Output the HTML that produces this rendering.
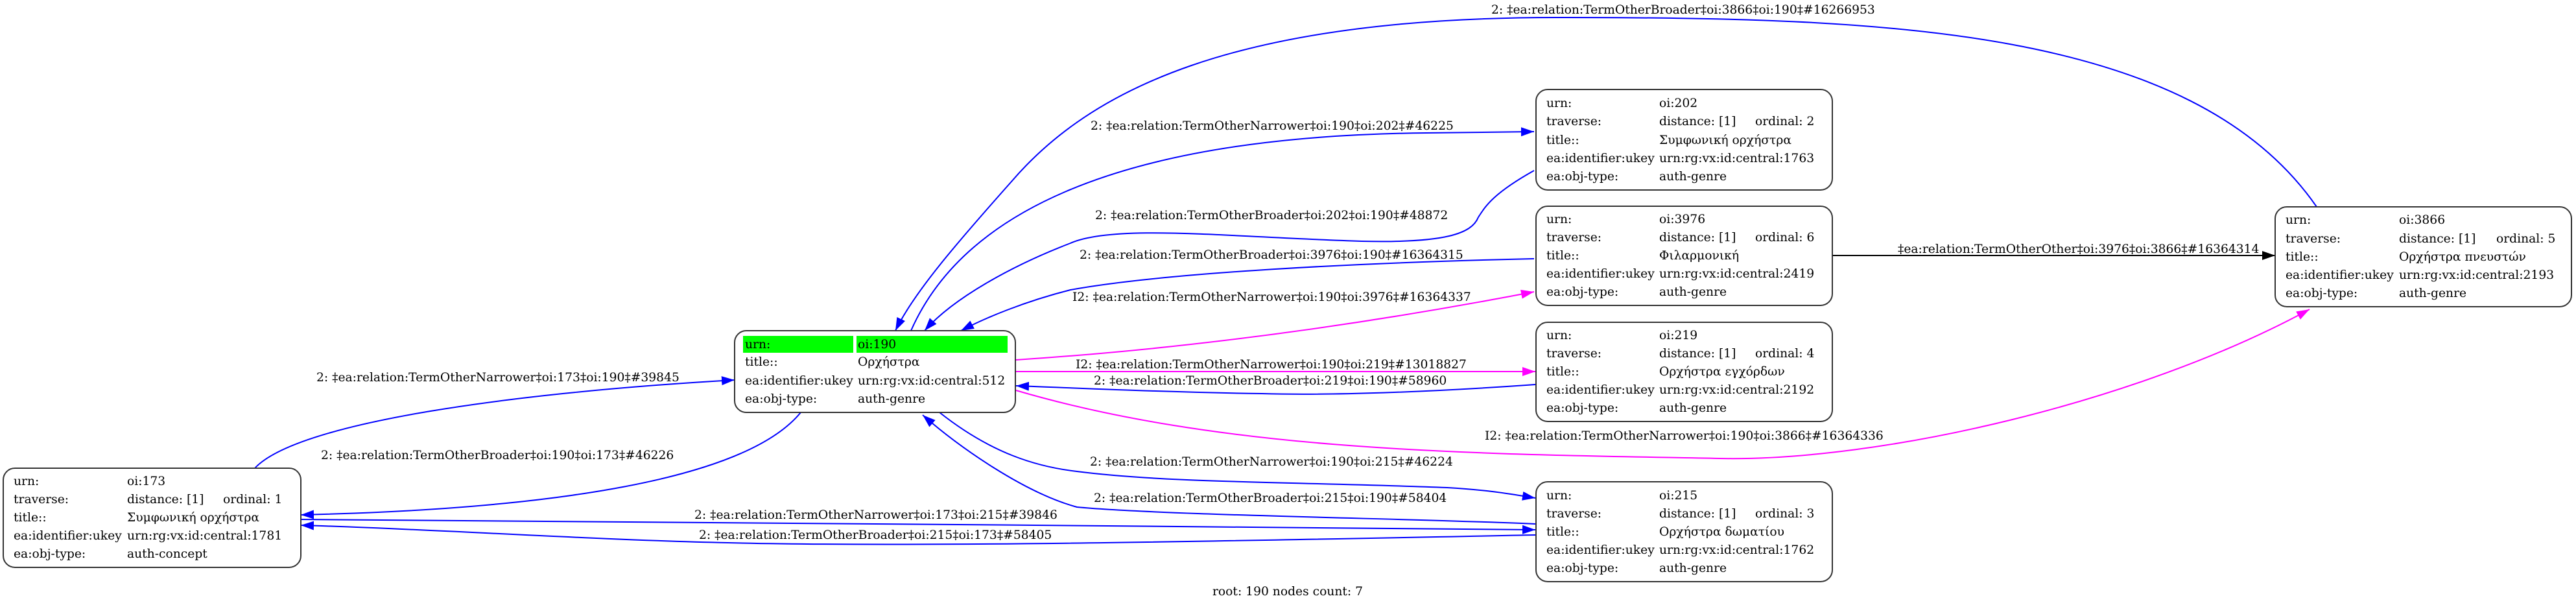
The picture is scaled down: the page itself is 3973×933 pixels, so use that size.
<!DOCTYPE html>
<html><head><meta charset="utf-8">
<style>
html,body{margin:0;padding:0;background:#fff;}
svg{display:block;}
text{font-family:"DejaVu Serif","Liberation Serif",serif;font-size:18.7px;fill:#000;}
</style></head>
<body>
<svg width="3973" height="933" viewBox="0 0 3973 933" xmlns="http://www.w3.org/2000/svg">
<defs>
<marker id="ab" markerUnits="userSpaceOnUse" markerWidth="22" markerHeight="16" refX="20" refY="7" orient="auto"><path d="M0,0 L20,7 L0,14 z" fill="#0000ff"/></marker>
<marker id="am" markerUnits="userSpaceOnUse" markerWidth="22" markerHeight="16" refX="20" refY="7" orient="auto"><path d="M0,0 L20,7 L0,14 z" fill="#ff00ff"/></marker>
<marker id="ak" markerUnits="userSpaceOnUse" markerWidth="22" markerHeight="16" refX="20" refY="7" orient="auto"><path d="M0,0 L20,7 L0,14 z" fill="#000"/></marker>
</defs>

<g fill="none" stroke-width="2">
<path stroke="#0000ff" marker-end="url(#ab)" d="M393,722 C460,650 800,605 1133,586"/>
<path stroke="#0000ff" marker-end="url(#ab)" d="M1235,636 C1150,740 850,785 464,794"/>
<path stroke="#0000ff" marker-end="url(#ab)" d="M464,801 C900,806 1800,810 2368,817"/>
<path stroke="#0000ff" marker-end="url(#ab)" d="M2368,825 C2000,832 1450,845 1122,837 C900,832 650,815 464,810"/>
<path stroke="#0000ff" marker-end="url(#ab)" d="M3573,319 C3380,40 2900,27 2400,27 C1900,27 1680,140 1560,280 C1480,370 1410,450 1381,510"/>
<path stroke="#0000ff" marker-end="url(#ab)" d="M1405,510 C1480,340 1700,210 2200,205 L2366,203"/>
<path stroke="#0000ff" marker-end="url(#ab)" d="M2366,263 C2300,300 2290,320 2280,335 C2270,360 2230,375 2100,372 C1900,366 1720,345 1651,375 C1560,410 1470,460 1426,510"/>
<path stroke="#0000ff" marker-end="url(#ab)" d="M2366,399 C2100,405 1800,420 1651,447 C1580,465 1520,490 1482,510"/>
<path stroke="#0000ff" marker-end="url(#ab)" d="M2368,593 C2200,605 2050,610 1946,607 C1800,605 1650,598 1567,595"/>
<path stroke="#0000ff" marker-end="url(#ab)" d="M1449,636 C1530,700 1600,720 1661,727 C1800,745 2000,743 2232,752 C2300,756 2330,762 2368,768"/>
<path stroke="#0000ff" marker-end="url(#ab)" d="M2368,808 C2200,800 1800,795 1661,782 C1580,760 1480,690 1423,640"/>
<path stroke="#ff00ff" marker-end="url(#am)" d="M1567,555 Q1950,530 2366,450"/>
<path stroke="#ff00ff" marker-end="url(#am)" d="M1567,573 L2368,573"/>
<path stroke="#ff00ff" marker-end="url(#am)" d="M1567,602 C1900,700 2300,700 2652,707 C2900,712 3300,620 3562,477"/>
<path stroke="#000" marker-end="url(#ak)" d="M2826,394 L3509,394"/>
</g>

<g>
<text x="488" y="588">2: ‡ea:relation:TermOtherNarrower‡oi:173‡oi:190‡#39845</text>
<text x="495" y="708">2: ‡ea:relation:TermOtherBroader‡oi:190‡oi:173‡#46226</text>
<text x="1071" y="800">2: ‡ea:relation:TermOtherNarrower‡oi:173‡oi:215‡#39846</text>
<text x="1078" y="831">2: ‡ea:relation:TermOtherBroader‡oi:215‡oi:173‡#58405</text>
<text x="2300" y="21">2: ‡ea:relation:TermOtherBroader‡oi:3866‡oi:190‡#16266953</text>
<text x="1682" y="200">2: ‡ea:relation:TermOtherNarrower‡oi:190‡oi:202‡#46225</text>
<text x="1689" y="338">2: ‡ea:relation:TermOtherBroader‡oi:202‡oi:190‡#48872</text>
<text x="1665" y="399">2: ‡ea:relation:TermOtherBroader‡oi:3976‡oi:190‡#16364315</text>
<text x="1654" y="464">I2: ‡ea:relation:TermOtherNarrower‡oi:190‡oi:3976‡#16364337</text>
<text x="1659" y="568">I2: ‡ea:relation:TermOtherNarrower‡oi:190‡oi:219‡#13018827</text>
<text x="1687" y="593">2: ‡ea:relation:TermOtherBroader‡oi:219‡oi:190‡#58960</text>
<text x="2290" y="678">I2: ‡ea:relation:TermOtherNarrower‡oi:190‡oi:3866‡#16364336</text>
<text x="1681" y="718">2: ‡ea:relation:TermOtherNarrower‡oi:190‡oi:215‡#46224</text>
<text x="1687" y="774">2: ‡ea:relation:TermOtherBroader‡oi:215‡oi:190‡#58404</text>
<text x="2927" y="390">‡ea:relation:TermOtherOther‡oi:3976‡oi:3866‡#16364314</text>
<text x="1870" y="918">root: 190 nodes count: 7</text>
</g>

<g>
<rect x="1133" y="510" width="433" height="126" rx="18" fill="#fff" stroke="#333" stroke-width="2"/>
<rect x="1146" y="518" width="170" height="26" fill="#00ff00"/>
<rect x="1321" y="518" width="233" height="26" fill="#00ff00"/>
<text x="1149" y="537">urn:</text><text x="1323" y="537">oi:190</text>
<text x="1149" y="564">title::</text><text x="1323" y="564">Ορχήστρα</text>
<text x="1149" y="593">ea:identifier:ukey</text><text x="1323" y="593">urn:rg:vx:id:central:512</text>
<text x="1149" y="621">ea:obj-type:</text><text x="1323" y="621">auth-genre</text>
</g>

<g>
<rect x="5" y="722" width="459" height="153" rx="18" fill="#fff" stroke="#333" stroke-width="2"/>
<text x="21" y="748">urn:</text><text x="196" y="748">oi:173</text>
<text x="21" y="776">traverse:</text><text x="196" y="776">distance: [1]</text><text x="344" y="776">ordinal: 1</text>
<text x="21" y="804">title::</text><text x="196" y="804">Συμφωνική ορχήστρα</text>
<text x="21" y="832">ea:identifier:ukey</text><text x="196" y="832">urn:rg:vx:id:central:1781</text>
<text x="21" y="860">ea:obj-type:</text><text x="196" y="860">auth-concept</text>
</g>

<g>
<rect x="2369" y="138" width="457" height="155" rx="18" fill="#fff" stroke="#333" stroke-width="2"/>
<text x="2385" y="165">urn:</text><text x="2559" y="165">oi:202</text>
<text x="2385" y="193">traverse:</text><text x="2559" y="193">distance: [1]</text><text x="2707" y="193">ordinal: 2</text>
<text x="2385" y="222">title::</text><text x="2559" y="222">Συμφωνική ορχήστρα</text>
<text x="2385" y="250">ea:identifier:ukey</text><text x="2559" y="250">urn:rg:vx:id:central:1763</text>
<text x="2385" y="278">ea:obj-type:</text><text x="2559" y="278">auth-genre</text>
</g>

<g>
<rect x="2369" y="318" width="457" height="153" rx="18" fill="#fff" stroke="#333" stroke-width="2"/>
<text x="2385" y="344">urn:</text><text x="2559" y="344">oi:3976</text>
<text x="2385" y="372">traverse:</text><text x="2559" y="372">distance: [1]</text><text x="2707" y="372">ordinal: 6</text>
<text x="2385" y="400">title::</text><text x="2559" y="400">Φιλαρμονική</text>
<text x="2385" y="428">ea:identifier:ukey</text><text x="2559" y="428">urn:rg:vx:id:central:2419</text>
<text x="2385" y="456">ea:obj-type:</text><text x="2559" y="456">auth-genre</text>
</g>

<g>
<rect x="2369" y="497" width="457" height="153" rx="18" fill="#fff" stroke="#333" stroke-width="2"/>
<text x="2385" y="523">urn:</text><text x="2559" y="523">oi:219</text>
<text x="2385" y="551">traverse:</text><text x="2559" y="551">distance: [1]</text><text x="2707" y="551">ordinal: 4</text>
<text x="2385" y="579">title::</text><text x="2559" y="579">Ορχήστρα εγχόρδων</text>
<text x="2385" y="607">ea:identifier:ukey</text><text x="2559" y="607">urn:rg:vx:id:central:2192</text>
<text x="2385" y="635">ea:obj-type:</text><text x="2559" y="635">auth-genre</text>
</g>

<g>
<rect x="2369" y="743" width="457" height="154" rx="18" fill="#fff" stroke="#333" stroke-width="2"/>
<text x="2385" y="770">urn:</text><text x="2559" y="770">oi:215</text>
<text x="2385" y="798">traverse:</text><text x="2559" y="798">distance: [1]</text><text x="2707" y="798">ordinal: 3</text>
<text x="2385" y="826">title::</text><text x="2559" y="826">Ορχήστρα δωματίου</text>
<text x="2385" y="854">ea:identifier:ukey</text><text x="2559" y="854">urn:rg:vx:id:central:1762</text>
<text x="2385" y="882">ea:obj-type:</text><text x="2559" y="882">auth-genre</text>
</g>

<g>
<rect x="3509" y="319" width="457" height="154" rx="18" fill="#fff" stroke="#333" stroke-width="2"/>
<text x="3525" y="345">urn:</text><text x="3700" y="345">oi:3866</text>
<text x="3525" y="374">traverse:</text><text x="3700" y="374">distance: [1]</text><text x="3850" y="374">ordinal: 5</text>
<text x="3525" y="402">title::</text><text x="3700" y="402">Ορχήστρα πνευστών</text>
<text x="3525" y="430">ea:identifier:ukey</text><text x="3700" y="430">urn:rg:vx:id:central:2193</text>
<text x="3525" y="458">ea:obj-type:</text><text x="3700" y="458">auth-genre</text>
</g>
</svg>
</body></html>
